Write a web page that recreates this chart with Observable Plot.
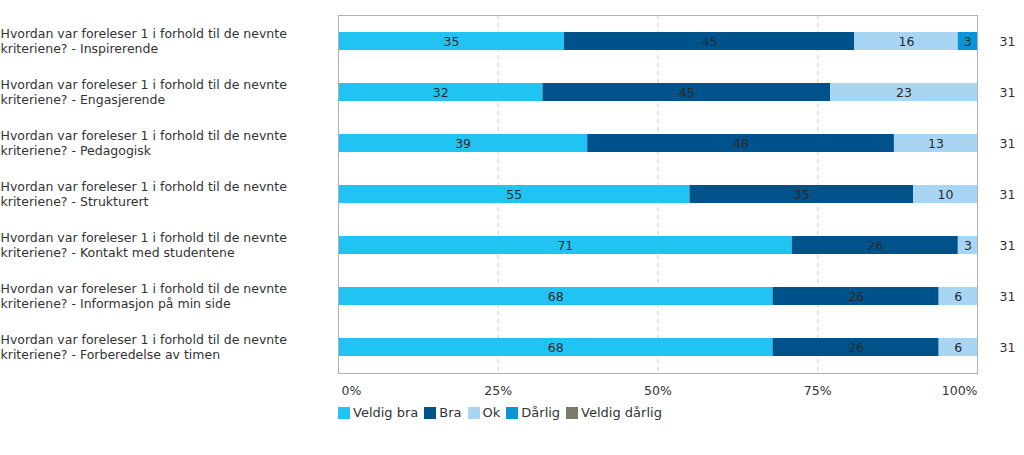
<!DOCTYPE html>
<html>
<head>
<meta charset="utf-8">
<script src="https://cdn.jsdelivr.net/npm/d3@7"></script>
<script src="https://cdn.jsdelivr.net/npm/@observablehq/plot@0.6"></script>
<style>
  html, body { margin: 0; padding: 0; background: #fff; }
  body { font-family: Verdana, "DejaVu Sans", sans-serif; color: #333; width: 1024px; height: 455px; overflow: hidden; }
  #legend { position: absolute; left: 338px; top: 405px; display: flex; align-items: center; font-size: 13px; color: #333; }
  #legend .item { display: flex; align-items: center; margin-right: 6px; }
  #legend .sw { width: 12px; height: 12px; margin-right: 3px; }
</style>
</head>
<body>
<div id="chart"></div>
<div id="legend"></div>
<script>
const prefix = "Hvordan var foreleser 1 i forhold til de nevnte\nkriteriene? - ";
const questions = ["Inspirerende", "Engasjerende", "Pedagogisk", "Strukturert", "Kontakt med studentene", "Informasjon på min side", "Forberedelse av timen"];
const categories = ["Veldig bra", "Bra", "Ok", "Dårlig", "Veldig dårlig"];
const colors = ["#21c3f2", "#00538a", "#a9d5f4", "#0b95d9", "#7c7b6b"];
const veldigBra   = [35, 32, 39, 55, 71, 68, 68];
const bra         = [45, 45, 48, 35, 26, 26, 26];
const ok          = [16, 23, 13, 10, 3, 6, 6];
const darlig      = [3, 0, 0, 0, 0, 0, 0];
const veldigDarlig = [0, 0, 0, 0, 0, 0, 0];
const counts = [31, 31, 31, 31, 31, 31, 31];
const xTicks = [0, 0.25, 0.5, 0.75, 1];

const series = [veldigBra, bra, ok, darlig, veldigDarlig];
const rows = [];
questions.forEach((q, i) => {
  categories.forEach((c, j) => {
    rows.push({q, cat: c, value: series[j][i]});
  });
});
const nonZero = rows.filter(d => d.value > 0);
const totals = questions.map((q, i) => ({q, n: counts[i]}));
const font = "Verdana, 'DejaVu Sans', sans-serif";

const chart = Plot.plot({
  width: 1024,
  height: 400,
  marginLeft: 338,
  marginRight: 47,
  marginTop: 15,
  marginBottom: 27,
  style: {fontFamily: font, fontSize: "12px", color: "#333", background: "#fff"},
  x: {domain: [0, 1], axis: null},
  y: {domain: questions, paddingInner: 0.65, paddingOuter: 0.325, axis: null},
  color: {domain: categories, range: colors},
  marks: [
    Plot.ruleX([0.25, 0.5, 0.75], {stroke: "#cfcfcf", strokeDasharray: "4,4"}),
    Plot.barX(rows, Plot.stackX({offset: "normalize", order: categories, x: "value", y: "q", fill: "cat"})),
    Plot.text(nonZero, Plot.stackX({offset: "normalize", order: categories, x: "value", y: "q", z: "cat", text: d => String(d.value), fill: "#2a2a2a", fontSize: 12.5})),
    Plot.frame({stroke: "#b0b0b0"}),
    Plot.text(questions, {y: d => d, text: d => prefix + d, frameAnchor: "left", textAnchor: "start", dx: -338, dy: -1, lineHeight: 1.2, fill: "#333", fontSize: 12.5}),
    Plot.text(totals, {y: "q", text: d => String(d.n), frameAnchor: "right", textAnchor: "middle", dx: 30, fill: "#333", fontSize: 12.5}),
    Plot.text(xTicks.slice(0, 1), {x: d => d, text: d => d3.format(".0%")(d), frameAnchor: "bottom", dy: 21, textAnchor: "start", dx: 3, fill: "#333", fontSize: 12.5}),
    Plot.text(xTicks.slice(1, -1), {x: d => d, text: d => d3.format(".0%")(d), frameAnchor: "bottom", dy: 21, textAnchor: "middle", fill: "#333", fontSize: 12.5}),
    Plot.text(xTicks.slice(-1), {x: d => d, text: d => d3.format(".0%")(d), frameAnchor: "bottom", dy: 21, textAnchor: "end", fill: "#333", fontSize: 12.5})
  ]
});
document.getElementById("chart").appendChild(chart);

const legend = document.getElementById("legend");
categories.forEach((c, i) => {
  const item = document.createElement("div");
  item.className = "item";
  const sw = document.createElement("span");
  sw.className = "sw";
  sw.style.background = colors[i];
  const lab = document.createElement("span");
  lab.textContent = c;
  item.appendChild(sw);
  item.appendChild(lab);
  legend.appendChild(item);
});
</script>
</body>
</html>
